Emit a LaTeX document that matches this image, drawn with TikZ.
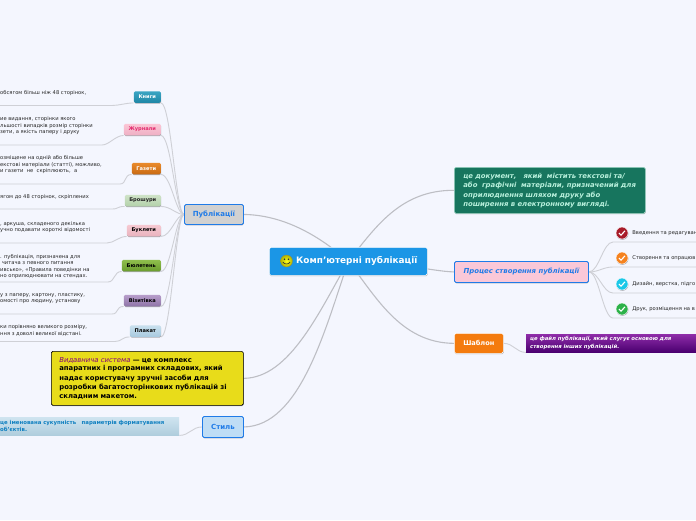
\documentclass[tikz,border=0pt]{standalone}
\usepackage{fontspec}
\setmainfont{DejaVu Sans}
\usetikzlibrary{positioning, shadows, backgrounds}

\definecolor{paper}{HTML}{F4F6FE}
\definecolor{linkgray}{HTML}{CFD0D6}
\definecolor{mainlinkgray}{HTML}{BDBEC4}
\definecolor{mainblue}{HTML}{1B96E6}
\definecolor{frameblue}{HTML}{1F7BE8}

\newcommand{\sz}[1]{\fontsize{#1}{#1}\selectfont}

\begin{document}
\begin{tikzpicture}[x=1pt, y=-1pt]
	\tikzset{
		soft/.style={drop shadow={shadow xshift=0.4pt, shadow yshift=-0.8pt, opacity=0.3, fill=black}},
		mainbox/.style={
			rounded corners=1.5pt,
			soft,
			font=\sz{7}\bfseries,
			inner sep=0pt,
			anchor=north west,
		},
		topic/.style={
			rounded corners=1.5pt,
			soft,
			font=\sz{5.1}\bfseries,
			inner sep=0pt,
			minimum height=11.5pt,
			anchor=east,
		},
		note/.style={
			font=\sz{5.2},
			text=black!85,
			align=left,
			inner sep=0pt,
			anchor=west,
		},
		strip/.style={
			font=\sz{5.4}\bfseries,
			align=left,
			inner sep=0pt,
			anchor=north west,
		},
		link/.style={linkgray, line width=0.9pt},
		mainlink/.style={mainlinkgray, line width=1.1pt},
		icon/.style={circle, inner sep=0pt, minimum size=12pt, draw=white, line width=0.4pt, soft},
	}

	\useasboundingbox (0,0) rectangle (696,520);

	% centre
	\node[mainbox, fill=mainblue, draw=white, line width=0.6pt, minimum width=158pt, minimum height=28pt] (root) at (269,247) {};
	\node[inner sep=0pt, anchor=west, text=white, font=\sz{8.9}\bfseries] (roottext) at (296,261) {Комп'ютерні публікації};
	\node[circle, inner sep=0pt, minimum size=12pt, draw=black!50!yellow, line width=0.3pt,
		inner color=yellow!90!white, outer color=yellow!70!black] (face) at (286.5,261) {};
	\fill[black!80] ([shift={(-2,-1.8)}]face.center) circle (0.8pt) ([shift={(2,-1.8)}]face.center) circle (0.8pt);
	\draw[black!80, line width=0.6pt] ([shift={(-3.6,1)}]face.center) to[out=-70, in=-110] ([shift={(3.6,1)}]face.center);

	% main topics
	\node[mainbox, fill=black!18, draw=frameblue, line width=0.9pt, text=frameblue,
		minimum width=59pt, minimum height=20pt] (pub) at (184,204) {Публікації};
	\node[mainbox, fill={rgb,255:red,23;green,117;blue,94}, draw={rgb,255:red,156;green,214;blue,196}, line width=0.6pt,
		text={rgb,255:red,184;green,240;blue,220}, font=\sz{6.9}\bfseries\itshape,
		minimum width=191pt, minimum height=46pt, text width=173pt, align=left, inner xsep=9pt] (definition) at (454,167)
		{це документ,\ \ \ який\ \ містить текстові та/\\[1.8pt]або\ \ графічні\ \ матеріали, призначений для\\[1.8pt]оприлюднення шляхом друку або\\[1.8pt]поширення в електронному вигляді.};
	\node[mainbox, fill={rgb,255:red,250;green,200;blue,216}, draw=frameblue, line width=0.9pt, text=frameblue,
		font=\sz{6.9}\bfseries\itshape, minimum width=134pt, minimum height=21pt] (proc) at (454,261) {Процес створення публікації};
	\node[mainbox, fill={rgb,255:red,244;green,123;blue,14}, draw=white, line width=0.7pt, text=white,
		font=\sz{6.6}\bfseries, minimum width=49pt, minimum height=20pt] (tmpl) at (454,333) {Шаблон};
	\node[mainbox, fill={rgb,255:red,232;green,220;blue,26}, draw=black, line width=0.7pt, text=black,
		font=\sz{6.85}\bfseries, minimum width=192pt, minimum height=54pt, text width=176pt, align=left, inner xsep=8pt] (system) at (51,351)
		{{\color{violet}\mdseries\itshape Видавнича система} — це комплекс\\[1.65pt]апаратних і програмних складових, який\\[1.65pt]надає користувачу зручні засоби для\\[1.65pt]розробки багатосторінкових публікацій зі\\[1.65pt]складним макетом.};
	\node[mainbox, fill={rgb,255:red,191;green,221;blue,245}, draw=frameblue, line width=0.9pt, text=frameblue,
		minimum width=41pt, minimum height=21pt] (style) at (202,416) {Стиль};

	% topics of the first branch
	\node[topic, top color={rgb,255:red,58;green,165;blue,195}, bottom color={rgb,255:red,31;green,134;blue,166}, text=white, minimum width=27pt] (books) at (161,97) {Книги};
	\node[topic, top color={rgb,255:red,251;green,198;blue,214}, bottom color={rgb,255:red,239;green,176;blue,196}, text={rgb,255:red,227;green,43;blue,110}, minimum width=37pt] (mags) at (161,129.5) {Журнали};
	\node[topic, top color={rgb,255:red,233;green,138;blue,44}, bottom color={rgb,255:red,201;green,106;blue,18}, text=white, minimum width=29pt] (papers) at (161,168.5) {Газети};
	\node[topic, top color={rgb,255:red,207;green,227;blue,200}, bottom color={rgb,255:red,179;green,209;blue,170}, text=black!85, minimum width=36pt] (broch) at (161,200.5) {Брошури};
	\node[topic, top color={rgb,255:red,246;green,201;blue,210}, bottom color={rgb,255:red,233;green,178;blue,190}, text=black, minimum width=34pt] (bookl) at (161,230.5) {Буклети};
	\node[topic, top color={rgb,255:red,143;green,191;blue,77}, bottom color={rgb,255:red,106;green,156;blue,46}, text=black, minimum width=39pt] (bull) at (161,265.5) {Бюлетень};
	\node[topic, top color={rgb,255:red,183;green,158;blue,203}, bottom color={rgb,255:red,143;green,116;blue,168}, text=black, minimum width=37pt] (card) at (161,300.5) {Візитівка};
	\node[topic, top color={rgb,255:red,201;green,224;blue,238}, bottom color={rgb,255:red,168;green,202;blue,223}, text=black, minimum width=31pt] (poster) at (161,331) {Плакат};

	% their truncated notes
	\node[note] (booksnote) at (0,93) {обсягом більш ніж 48 сторінок,};
	\node[note] (magsnote) at (0,126) {ие видання, сторінки якого\\[1.3pt]льшості випадків розмір сторінки\\[1.3pt]зети, а якість паперу і друку};
	\node[note] (papersnote) at (0,165) {озміщене на одній або більше\\[1.3pt]екстові матеріали (статті), можливо,\\[1.3pt]и газети\ \ не\ \ скріплюють,\ \ а};
	\node[note] (brochnote) at (0,197.5) {ягом до 48 сторінок, скріплених};
	\node[note] (booklnote) at (0,227) {, аркуша, складеного декілька\\[1.5pt]учно подавати короткі відомості};
	\node[note] (bullnote) at (0,266.5) {. публікація, призначена для\\[1.1pt]\ читача з певного питання\\[1.1pt]ивсько», «Правила поведінки на\\[1.1pt]но оприлюднювати на стендах.};
	\node[note] (cardnote) at (0,298.5) {у з паперу, картону, пластику,\\[1.1pt]омості про людину, установу};
	\node[note] (posternote) at (0,330.5) {ки порівняно великого розміру,\\[1.8pt]ння з доволі великої відстані.};

	% leaves
	\node[strip, top color={rgb,255:red,207;green,228;blue,240}, bottom color={rgb,255:red,175;green,205;blue,221}, text={rgb,255:red,15;green,127;blue,192},
		minimum width=179pt, minimum height=18pt, text width=179pt] (stylenote) at (0,417) {це іменована сукупність\ \ \ параметрів форматування\\[1pt]об'єктів.};
	\node[strip, top color={rgb,255:red,142;green,44;blue,168}, bottom color={rgb,255:red,74;green,0;blue,112}, text=white, font=\sz{5.35}\bfseries\itshape,
		minimum width=170pt, minimum height=18pt, text width=162pt, inner xsep=4pt] (tmplnote) at (526,334) {це файл публікації, який слугує основою для\\[1.3pt]створення інших публікацій.};

	% steps of the process
	\foreach \n/\y/\c/\t in {
		edit/233/{rgb,255:red,168;green,28;blue,42}/Введення та редагуван,
		make/258/{rgb,255:red,245;green,130;blue,31}/Створення та опрацюв,
		design/284/{rgb,255:red,28;green,200;blue,232}/{Дизайн, верстка, підго},
		print/309/{rgb,255:red,45;green,178;blue,74}/{Друк, розміщення на в}}{
		\node[icon, fill=\c] (\n) at (622,\y) {};
		\node[note, right=4pt of \n] (\n text) {\t};
		\draw[white, line width=1.1pt] ([shift={(-3,0)}]\n.center) -- ++(2,2.2) -- ++(4,-4.4);
	}

	\begin{scope}[on background layer]
		\fill[paper] (0,0) rectangle (696,520);

		\draw[mainlink] (root.center) .. controls (315,232) and (280,215) .. (pub.east);
		\draw[mainlink] (root.center) .. controls (375,228) and (400,190) .. (definition.west);
		\draw[mainlink] (root.center) .. controls (400,262) and (430,271) .. (proc.west);
		\draw[mainlink] (root.center) .. controls (375,295) and (400,343) .. (tmpl.west);
		\draw[mainlink] (root.center) .. controls (320,310) and (290,378) .. (system.east);
		\draw[mainlink] (root.center) .. controls (325,330) and (300,426) .. (style.east);

		\foreach \n/\x/\y in {
			books/112/105.5, mags/102/145, papers/120/184, broch/112/209,
			bookl/107/243, bull/108/282, card/112/314, poster/115/341.5}{
			\coordinate (\n rule) at (\x,\y);
			\coordinate (\n end) at (0,\y);
			\draw[link] (pub.west) .. controls +(-8,0) and +(10,0) .. (\n.south east);
			\draw[link] (\n.south west) .. controls +(-8,0) and +(7,0) .. (\n rule) -- (\n end);
		}

		\foreach \n/\y in {edit/242, make/267, design/293, print/318}{
			\coordinate (\n rule) at (613,\y);
			\coordinate (\n end) at (696,\y);
			\draw[link] (proc.east) .. controls +(10,0) and +(-10,0) .. (\n rule) -- (\n end);
		}

		\draw[link] (style.west) .. controls +(-10,0) and +(10,0) .. (stylenote.south east);
		\draw[link] (tmpl.east) .. controls +(10,0) and +(-10,0) .. (tmplnote.south west);
	\end{scope}
\end{tikzpicture}
\end{document}
